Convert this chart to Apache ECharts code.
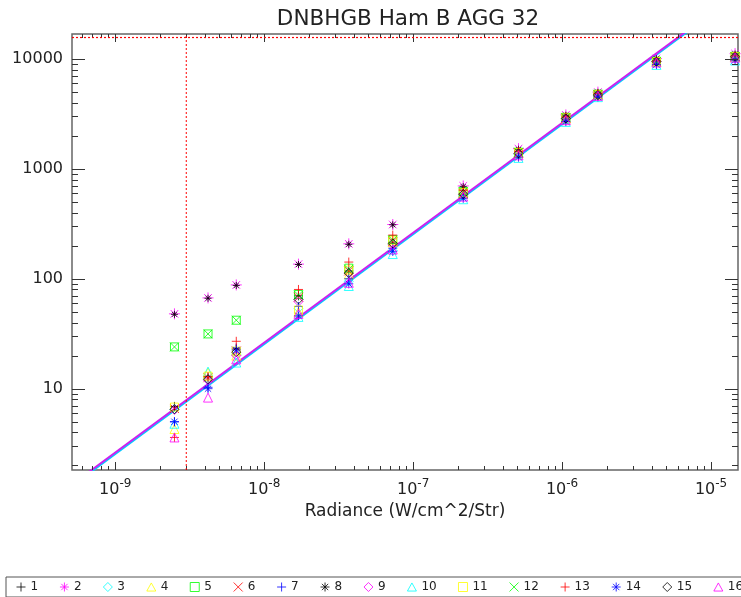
<!DOCTYPE html>
<html><head><meta charset="utf-8">
<script src="https://cdn.jsdelivr.net/npm/echarts@6/dist/echarts.min.js"></script>
<style>html,body{margin:0;padding:0;background:#fff}#c{width:741px;height:597px}</style>
</head><body><div id="c"></div>
<script>
// ---- data ----
const xValues = [2.5e-9, 4.2e-9, 6.5e-9, 1.7e-8, 3.7e-8, 7.3e-8, 2.17e-7, 5.1e-7, 1.06e-6, 1.74e-6, 4.3e-6, 1.45e-5];
const s1  = [6.9, 12.6, 23, 70, 118, 212, 590, 1390, 2880, 4720, 9500, 10500];
const s2  = [48, 67, 88, 136, 208, 312, 700, 1530, 3100, 5000, 10100, 11200];
const s3  = [6.5, 12.0, 20.5, 54, 95, 180, 570, 1350, 2820, 4650, 9400, 10300];
const s4  = [4.3, 14.0, 20, 50, 110, 215, 595, 1380, 2870, 4700, 9450, 10400];
const s5  = [24, 31.5, 42, 72, 125, 228, 625, 1420, 2950, 4800, 9550, 10600];
const s6  = [6.6, 12.6, 22, 68, 118, 218, 600, 1400, 2900, 4720, 9500, 10500];
const s7  = [5.0, 10.3, 23.5, 56, 100, 190, 560, 1320, 2780, 4600, 9200, 10100];
const s8  = [47.5, 66.5, 87, 135, 206, 310, 690, 1510, 3080, 4980, 10050, 11100];
const s9  = [6.4, 11.9, 20, 62, 112, 205, 585, 1380, 2870, 4700, 9450, 10450];
const s10 = [4.8, 14.3, 17.3, 45, 86, 168, 530, 1260, 2680, 4500, 8850, 9700];
const s11 = [6.8, 13.0, 22, 52, 120, 222, 610, 1410, 2920, 4760, 9500, 10550];
const s12 = [24, 31.5, 42, 71, 122, 225, 620, 1420, 2940, 4780, 9500, 10550];
const s13 = [3.6, 12.9, 27, 80, 142, 250, 640, 1450, 2980, 4850, 9600, 10700];
const s14 = [5.0, 10.0, 22.5, 46, 90, 178, 540, 1280, 2700, 4520, 8900, 9750];
const s15 = [6.5, 12.2, 21.5, 65, 113, 210, 590, 1385, 2880, 4710, 9480, 10480];
const s16 = [3.6, 8.3, 18.5, 48, 92, 185, 560, 1330, 2780, 4620, 9300, 10300];
const seriesValues = [s1,s2,s3,s4,s5,s6,s7,s8,s9,s10,s11,s12,s13,s14,s15,s16];
const seriesNames = ['1','2','3','4','5','6','7','8','9','10','11','12','13','14','15','16'];
const seriesColors = ['#000000','#ff00ff','#00ffff','#ffff00','#00ff00','#ff0000','#0000ff','#000000',
                      '#ff00ff','#00ffff','#ffff00','#00ff00','#ff0000','#0000ff','#000000','#ff00ff'];
const seriesSymbols = ['plus','star','diamond','triangle','square','cross','plus','star',
                       'diamond','triangle','square','cross','plus','star','diamond','triangle'];
const fitMagenta = [[5e-10, 1.31], [2e-5, 52400]];
const fitCyan    = [[5e-10, 1.27], [2e-5, 51000]];
const limitX = 3e-9;
const limitY = 15700;
const xTickExponents = [-9, -8, -7, -6, -5];
const yTickLabels = ['10', '100', '1000', '10000'];
const titleText = 'DNBHGB Ham B AGG 32';
const xAxisName = 'Radiance (W/cm^2/Str)';

// ---- styling ----
const FONT = 'DejaVu Sans';
const TXT = '#222';
const symbolPaths = {
  plus: 'path://M0,5L10,5M5,0L5,10',
  cross: 'path://M0,0L10,10M10,0L0,10',
  star: 'path://M5,0L5,10M0,5L10,5M1.5,1.5L8.5,8.5M8.5,1.5L1.5,8.5',
  diamond: 'path://M5,0L10,5L5,10L0,5Z',
  triangle: 'path://M5,0L10,9L0,9Z',
  square: 'path://M0,0L10,0L10,10L0,10Z'
};
const xMin = 5.13e-10, xMax = 1.517e-5, yMin = 1.82, yMax = 16900;

// tick positions (axis furniture)
const mults = [1,2,3,4,5,6,7,8,9];
const xTicks = [], yTicks = [];
[-10,-9,-8,-7,-6,-5].forEach(e => mults.forEach(m => {
  const v = m * Math.pow(10, e);
  if (v > xMin && v < xMax) xTicks.push([v, 10, m === 1 ? 1 : 0]);
}));
[0,1,2,3,4].forEach(e => mults.forEach(m => {
  const v = m * Math.pow(10, e);
  if (v > yMin && v < yMax) yTicks.push([1e-7, v, m === 1 ? 1 : 0]);
}));

function tickSeries(data, axis) {
  return {
    type: 'custom', silent: true, clip: false, z: 5, data: data,
    dimensions: ['x', 'y', 'm'], encode: {x: 0, y: 1},
    renderItem: function (params, api) {
      const cs = params.coordSys;
      const pt = api.coord([api.value(0), api.value(1)]);
      const major = api.value(2) === 1;
      const style = {stroke: '#333', lineWidth: 1};
      if (axis === 'x') {
        const L = major ? 8 : 4;
        const x = Math.round(pt[0]) + 0.5;
        const b = cs.y + cs.height, t = cs.y;
        return {type: 'group', children: [
          {type: 'line', shape: {x1: x, y1: b, x2: x, y2: b - L}, style: style},
          {type: 'line', shape: {x1: x, y1: t, x2: x, y2: t + L}, style: style}
        ]};
      } else {
        const L = major ? 13 : 6;
        const y = Math.round(pt[1]) + 0.5;
        const l = cs.x, r = cs.x + cs.width;
        return {type: 'group', children: [
          {type: 'line', shape: {x1: l, y1: y, x2: l + L, y2: y}, style: style},
          {type: 'line', shape: {x1: r, y1: y, x2: r - L, y2: y}, style: style}
        ]};
      }
    }
  };
}

const series = [];
// red dotted limit lines
series.push({
  type: 'line', data: [[limitX, yMin], [limitX, yMax]], showSymbol: false, silent: true,
  lineStyle: {color: '#ff0000', width: 1, type: [2, 2]}, z: 6
});
series.push({
  type: 'line', data: [[xMin, limitY], [xMax, limitY]], showSymbol: false, silent: true,
  lineStyle: {color: '#ff0000', width: 1.2, type: [2, 2]}, z: 6
});
series.push({
  type: 'line', data: fitCyan, showSymbol: false, silent: true,
  lineStyle: {color: '#00ccff', width: 2}, z: 2
});
series.push({
  type: 'line', data: fitMagenta, showSymbol: false, silent: true,
  lineStyle: {color: '#cc22ee', width: 2}, z: 2
});
seriesValues.forEach((vals, i) => {
  let size = seriesSymbols[i] === 'square' ? 8 : 9;
  if (i === 1) size = 11;
  if (i === 7) size = 7;
  series.push({
    type: 'scatter', name: seriesNames[i],
    data: xValues.map((x, j) => [x, vals[j]]),
    symbol: symbolPaths[seriesSymbols[i]],
    symbolSize: size,
    itemStyle: {color: 'rgba(0,0,0,0)', borderColor: seriesColors[i], borderWidth: 1},
    emphasis: {disabled: true}, z: 3
  });
});
series.push(tickSeries(xTicks, 'x'));
series.push(tickSeries(yTicks, 'y'));

const chart = echarts.init(document.getElementById('c'), null, {renderer: 'canvas'});
chart.setOption({
  animation: false,
  backgroundColor: '#fff',
  title: {
    text: titleText, left: 403, top: 3, textAlign: 'center',
    textStyle: {fontFamily: FONT, fontSize: 21.5, fontWeight: 'normal', color: TXT}
  },
  grid: {left: 72, right: 3, top: 34, bottom: 127, show: true, borderColor: '#666', borderWidth: 1.5},
  xAxis: {
    type: 'log', min: xMin, max: xMax, logBase: 10,
    axisLine: {show: false}, axisTick: {show: false}, splitLine: {show: false}, minorTick: {show: false},
    axisLabel: {
      margin: 8, hideOverlap: false,
      formatter: function (v) {
        const lg = Math.log10(v), e = Math.round(lg);
        if (Math.abs(lg - e) > 1e-6 || xTickExponents.indexOf(e) < 0) return '';
        return '{b|10}{s|' + e + '}';
      },
      rich: {
        b: {fontFamily: FONT, fontSize: 16, color: TXT, lineHeight: 20, verticalAlign: 'bottom'},
        s: {fontFamily: FONT, fontSize: 12, color: TXT, lineHeight: 12, verticalAlign: 'top'}
      }
    },
    name: xAxisName, nameLocation: 'middle', nameGap: 31,
    nameTextStyle: {fontFamily: FONT, fontSize: 17, color: TXT}
  },
  yAxis: {
    type: 'log', min: yMin, max: yMax, logBase: 10,
    axisLine: {show: false}, axisTick: {show: false}, splitLine: {show: false}, minorTick: {show: false},
    axisLabel: {
      margin: 9, hideOverlap: false, fontFamily: FONT, fontSize: 16, color: TXT,
      formatter: function (v) {
        const lg = Math.log10(v), e = Math.round(lg);
        if (Math.abs(lg - e) > 1e-6) return '';
        const idx = e - 1;
        return (idx >= 0 && idx < yTickLabels.length) ? yTickLabels[idx] : '';
      }
    }
  },
  legend: {
    data: seriesNames, left: 6, top: 577, width: 900, orient: 'horizontal',
    itemWidth: 9, itemHeight: 9, itemGap: 21.3, padding: [4, 10, 4, 10],
    borderColor: '#555', borderWidth: 1, selectedMode: false,
    itemStyle: {borderWidth: 1},
    textStyle: {fontFamily: FONT, fontSize: 12, color: TXT}
  },
  series: series
});
</script>
</body></html>
